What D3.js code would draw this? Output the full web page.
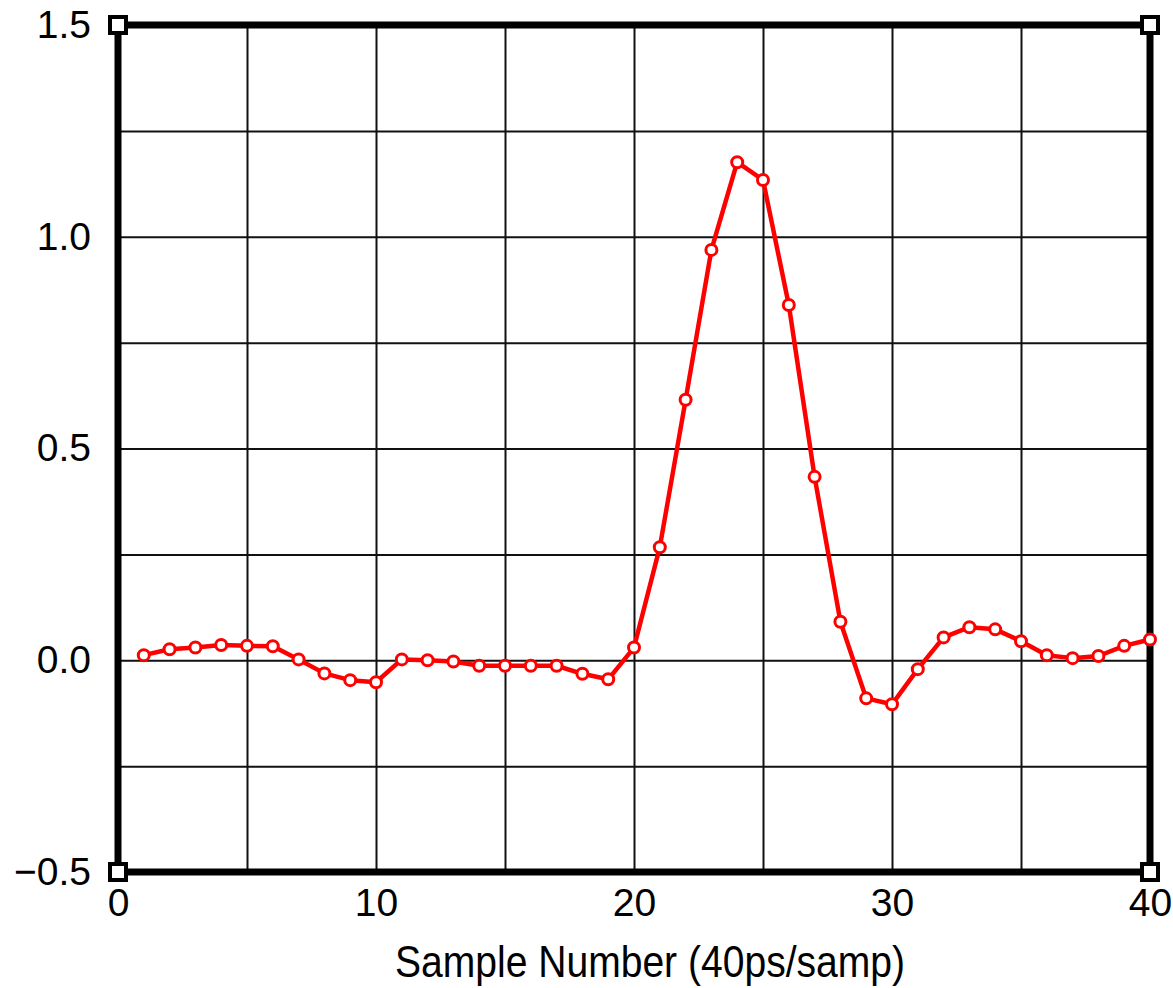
<!DOCTYPE html>
<html>
<head>
<meta charset="utf-8">
<script src="https://cdn.jsdelivr.net/npm/d3@7"></script>
<style>
  html, body { margin: 0; padding: 0; background: #fff; }
  svg { display: block; }
  text { font-family: "Liberation Sans", Arial, sans-serif; fill: #000; }
</style>
</head>
<body>
<script>
// Pulse response samples (sample index 1..40)
const sampleNumbers = d3.range(1, 41);
const sampleValues = [
  0.012, 0.026, 0.030, 0.036, 0.034, 0.033, 0.002, -0.031, -0.047, -0.052,
  0.002, 0.000, -0.003, -0.013, -0.013, -0.013, -0.013, -0.032, -0.045, 0.030,
  0.267, 0.615, 0.969, 1.176, 1.134, 0.839, 0.433, 0.091, -0.090, -0.104,
  -0.021, 0.054, 0.078, 0.073, 0.045, 0.012, 0.005, 0.010, 0.034, 0.049
];
const xTickValues = [0, 10, 20, 30, 40];
const yTickValues = [-0.5, 0, 0.5, 1.0, 1.5];
const xGridValues = d3.range(0, 41, 5);
const yGridValues = d3.range(-0.5, 1.51, 0.25);
const xTitle = "Sample Number (40ps/samp)";

const W = 1173, H = 988;
const plotLeft = 118, plotRight = 1150, plotTop = 25, plotBottom = 872;

const svg = d3.select("body").append("svg")
  .attr("width", W).attr("height", H);

const x = d3.scaleLinear().domain([0, 40]).range([plotLeft, plotRight]);
const y = d3.scaleLinear().domain([-0.5, 1.5]).range([plotBottom, plotTop]);

// grid
svg.append("g")
  .attr("transform", `translate(0,${plotBottom})`)
  .call(d3.axisBottom(x).tickValues(xGridValues).tickSize(-(plotBottom - plotTop)).tickFormat(""))
  .call(g => g.select(".domain").remove())
  .call(g => g.selectAll("line").attr("stroke", "#111").attr("stroke-width", 2));

svg.append("g")
  .attr("transform", `translate(${plotLeft},0)`)
  .call(d3.axisLeft(y).tickValues(yGridValues).tickSize(-(plotRight - plotLeft)).tickFormat(""))
  .call(g => g.select(".domain").remove())
  .call(g => g.selectAll("line").attr("stroke", "#111").attr("stroke-width", 2));

// frame
svg.append("rect")
  .attr("x", plotLeft).attr("y", plotTop)
  .attr("width", plotRight - plotLeft).attr("height", plotBottom - plotTop)
  .attr("fill", "none").attr("stroke", "#000").attr("stroke-width", 7);

// corner markers
const corners = [[0, -0.5], [0, 1.5], [40, -0.5], [40, 1.5]];
svg.append("g").selectAll("rect")
  .data(corners).join("rect")
  .attr("x", d => x(d[0]) - 8).attr("y", d => y(d[1]) - 8)
  .attr("width", 16).attr("height", 16)
  .attr("fill", "#fff").attr("stroke", "#000").attr("stroke-width", 4);

// tick labels
svg.append("g")
  .attr("transform", `translate(${plotLeft},0)`)
  .call(d3.axisLeft(y).tickValues(yTickValues).tickSize(0).tickPadding(27).tickFormat(d3.format(".1f")))
  .call(g => g.select(".domain").remove())
  .call(g => g.selectAll("text").attr("font-size", 39).attr("font-family", "Liberation Sans, Arial, sans-serif").attr("fill", "#000"));

svg.append("g")
  .attr("transform", `translate(0,${plotBottom})`)
  .call(d3.axisBottom(x).tickValues(xTickValues).tickSize(0).tickPadding(16).tickFormat(d3.format("d")))
  .call(g => g.select(".domain").remove())
  .call(g => g.selectAll("text").attr("font-size", 39).attr("font-family", "Liberation Sans, Arial, sans-serif").attr("fill", "#000"));

// axis title (condensed)
svg.append("text")
  .attr("x", 650).attr("y", 977)
  .attr("text-anchor", "middle")
  .attr("font-size", 44)
  .attr("textLength", 510)
  .attr("lengthAdjust", "spacingAndGlyphs")
  .text(xTitle);

// series
const pts = sampleNumbers.map((n, i) => [n, sampleValues[i]]);
svg.append("path")
  .datum(pts)
  .attr("fill", "none")
  .attr("stroke", "#ff0000")
  .attr("stroke-width", 4.5)
  .attr("stroke-linejoin", "round")
  .attr("d", d3.line().x(d => x(d[0])).y(d => y(d[1])));

svg.append("g").selectAll("circle")
  .data(pts).join("circle")
  .attr("cx", d => x(d[0])).attr("cy", d => y(d[1]))
  .attr("r", 5.5)
  .attr("fill", "#fff")
  .attr("stroke", "#ff0000")
  .attr("stroke-width", 3);
</script>
</body>
</html>
